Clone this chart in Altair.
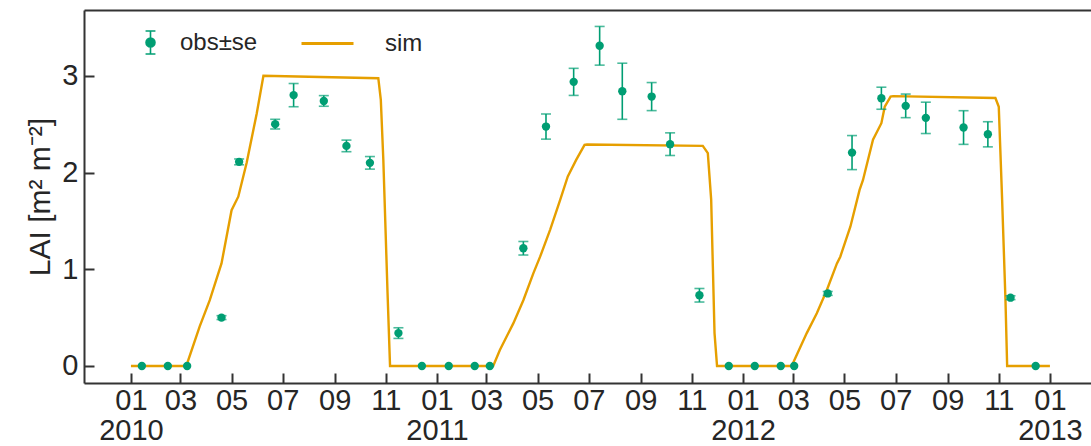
import altair as alt
import pandas as pd

GREEN = "#009e73"
ORANGE = "#e69f00"
FRAME = "#333333"
TEXT = "#262626"
FONT = "Liberation Sans"

# Simulated LAI (model output), three growing seasons
sim_dates = [
    "2010-01-01", "2010-03-08", "2010-03-24", "2010-04-05", "2010-04-19", "2010-05-01",
    "2010-05-09", "2010-05-19", "2010-05-31", "2010-06-08", "2010-08-01", "2010-10-23",
    "2010-10-26", "2010-10-29", "2010-11-03", "2010-11-06",
    "2011-03-09", "2011-03-17", "2011-04-02", "2011-04-14", "2011-04-26", "2011-05-04",
    "2011-05-16", "2011-05-28", "2011-06-06", "2011-06-16", "2011-06-26", "2011-06-29",
    "2011-11-14", "2011-11-20", "2011-11-24", "2011-11-26", "2011-11-28", "2011-12-01",
    "2012-02-28", "2012-03-17", "2012-03-29", "2012-04-10", "2012-04-22", "2012-04-26",
    "2012-05-08", "2012-05-19", "2012-05-23", "2012-06-04", "2012-06-14", "2012-06-18",
    "2012-06-25", "2012-06-28", "2012-10-28", "2012-11-01", "2012-11-05", "2012-11-09",
    "2012-11-11", "2013-01-01",
]
sim_lai = [
    0, 0, 0.41, 0.68, 1.06, 1.61, 1.75, 2.10, 2.61, 3.00, 2.99, 2.975, 2.75, 2.13, 0.76, 0,
    0, 0.165, 0.44, 0.68, 0.96, 1.13, 1.41, 1.72, 1.96, 2.13, 2.285, 2.29, 2.275, 2.20, 1.72,
    1.03, 0.34, 0,
    0, 0.34, 0.545, 0.786, 1.06, 1.13, 1.44, 1.82, 1.92, 2.34, 2.51, 2.68, 2.785, 2.79, 2.77,
    2.68, 1.72, 0.68, 0, 0,
]

# Observed LAI with standard error
obs_dates = [
    "2010-01-14", "2010-02-14", "2010-03-09", "2010-04-19", "2010-05-10", "2010-06-22",
    "2010-07-14", "2010-08-19", "2010-09-15", "2010-10-13", "2010-11-16",
    "2010-12-14", "2011-01-15", "2011-02-15", "2011-03-05", "2011-04-14", "2011-05-11",
    "2011-06-13", "2011-07-14", "2011-08-10", "2011-09-14", "2011-10-06", "2011-11-10",
    "2011-12-15", "2012-01-15", "2012-02-15", "2012-03-02", "2012-04-11", "2012-05-10",
    "2012-06-14", "2012-07-13", "2012-08-06", "2012-09-20", "2012-10-19", "2012-11-15",
    "2012-12-15",
]
obs_lai = [
    0, 0, 0, 0.50, 2.11, 2.50, 2.80, 2.74, 2.275, 2.10, 0.34,
    0, 0, 0, 0, 1.217, 2.475, 2.937, 3.31, 2.84, 2.785, 2.293, 0.731,
    0, 0, 0, 0, 0.75, 2.206, 2.768, 2.689, 2.565, 2.465, 2.395, 0.706, 0,
]
obs_se = [
    0, 0, 0, 0.02, 0.03, 0.05, 0.12, 0.055, 0.06, 0.065, 0.055,
    0, 0, 0, 0, 0.07, 0.13, 0.14, 0.20, 0.29, 0.145, 0.117, 0.07,
    0, 0, 0, 0, 0.02, 0.176, 0.114, 0.122, 0.162, 0.174, 0.13, 0.02, 0,
]

tick_dates = [
    "2010-01-01", "2010-03-01", "2010-05-01", "2010-07-01", "2010-09-01", "2010-11-01",
    "2011-01-01", "2011-03-01", "2011-05-01", "2011-07-01", "2011-09-01", "2011-11-01",
    "2012-01-01", "2012-03-01", "2012-05-01", "2012-07-01", "2012-09-01", "2012-11-01",
    "2013-01-01",
]
y_ticks = [0, 1, 2, 3]
x_range = ["2009-11-06", "2013-02-19"]
y_range = [-0.176, 3.68]

sim = pd.DataFrame({"date": sim_dates, "lai": sim_lai, "kind": "sim"})
obs = pd.DataFrame({"date": obs_dates, "lai": obs_lai, "se": obs_se, "kind": "obs±se"})
obs["lo"] = obs["lai"] - obs["se"]
obs["hi"] = obs["lai"] + obs["se"]
err = obs[obs["se"] > 0]


def utc_date(s):
    y, m, d = (int(p) for p in s.split("-"))
    return alt.DateTime(year=y, month=m, date=d, utc=True)


x_scale = alt.Scale(type="utc", domain=[utc_date(s) for s in x_range], nice=False)
y_scale = alt.Scale(domain=y_range, nice=False, zero=False)

inward = {"expr": "-10"}

y_axis = alt.Axis(
    values=y_ticks, title="LAI [m² m⁻²]", grid=False,
    domainColor=FRAME, domainWidth=2, tickColor=FRAME, tickWidth=2, tickSize=inward,
    labelPadding=16, labelFontSize=29, labelColor=TEXT, labelFont=FONT,
    titleFontSize=30, titleFont=FONT, titleColor=TEXT, titleFontWeight="normal",
    titlePadding=6,
)

x_axis = alt.Axis(
    values=[utc_date(s) for s in tick_dates],
    labelExpr=("utcmonth(datum.value) == 0 ? [utcFormat(datum.value, '%m'), "
               "utcFormat(datum.value, '%Y')] : utcFormat(datum.value, '%m')"),
    title=None, grid=False,
    domainColor=FRAME, domainWidth=2, tickColor=FRAME, tickWidth=2, tickSize=inward,
    labelPadding=13, labelFontSize=29, labelLineHeight=30, labelColor=TEXT, labelFont=FONT,
    labelFlush=False, labelOverlap=False, labelAlign="center", labelBaseline="top",
)

top_axis = alt.Axis(
    orient="top", labels=False, ticks=False, title=None, grid=False,
    domainColor=FRAME, domainWidth=2,
)

# Legend glyph: vertical error bar with caps and a dot in the middle
OBS_GLYPH = ("M0,-1V1M-0.43,-1H0.43M-0.43,1H0.43"
             "M0.39,0A0.39,0.39,0,1,1,-0.39,0A0.39,0.39,0,1,1,0.39,0Z")

line = alt.Chart(sim).mark_line(strokeWidth=2.4).encode(
    x=alt.X("date:T", scale=x_scale, axis=x_axis),
    y=alt.Y("lai:Q", scale=y_scale, axis=y_axis),
    stroke=alt.Stroke(
        "kind:N",
        scale=alt.Scale(domain=["sim"], range=[ORANGE]),
        legend=alt.Legend(
            title=None, orient="none", legendX=216, legendY=6, padding=0,
            symbolType="stroke", symbolSize=2704, symbolStrokeWidth=2.8,
            labelOffset=30, labelFont=FONT, labelFontSize=24, labelColor=TEXT,
        ),
    ),
)

bars = alt.Chart(err).mark_errorbar(
    color=GREEN, thickness=1.6, ticks={"size": 10, "thickness": 1.6}
).encode(
    x=alt.X("date:T", scale=x_scale, axis=top_axis),
    y=alt.Y("lo:Q", scale=y_scale, axis=y_axis),
    y2="hi:Q",
)

points = alt.Chart(obs).mark_circle(size=70, opacity=1).encode(
    x=alt.X("date:T", scale=x_scale, axis=None),
    y=alt.Y("lai:Q", scale=y_scale, axis=y_axis),
    fill=alt.Fill(
        "kind:N",
        scale=alt.Scale(domain=["obs±se"], range=[GREEN]),
        legend=alt.Legend(
            title=None, orient="none", legendX=54, legendY=20, padding=0,
            symbolType=OBS_GLYPH, symbolSize=529, symbolStrokeColor=GREEN,
            symbolStrokeWidth=1.6, symbolOpacity=1,
            labelOffset=17, labelFont=FONT, labelFontSize=24, labelColor=TEXT,
        ),
    ),
)

chart = (
    alt.layer(line, bars, points)
    .resolve_axis(x="independent")
    .properties(
        width=1007, height=373,
        padding={"left": 84, "top": 10, "right": 0, "bottom": 63},
        autosize=alt.AutoSizeParams(type="none"),
        background="white",
    )
    .configure_view(stroke=None)
)

chart.save("out.html", embed_options={"renderer": "svg", "actions": False})
